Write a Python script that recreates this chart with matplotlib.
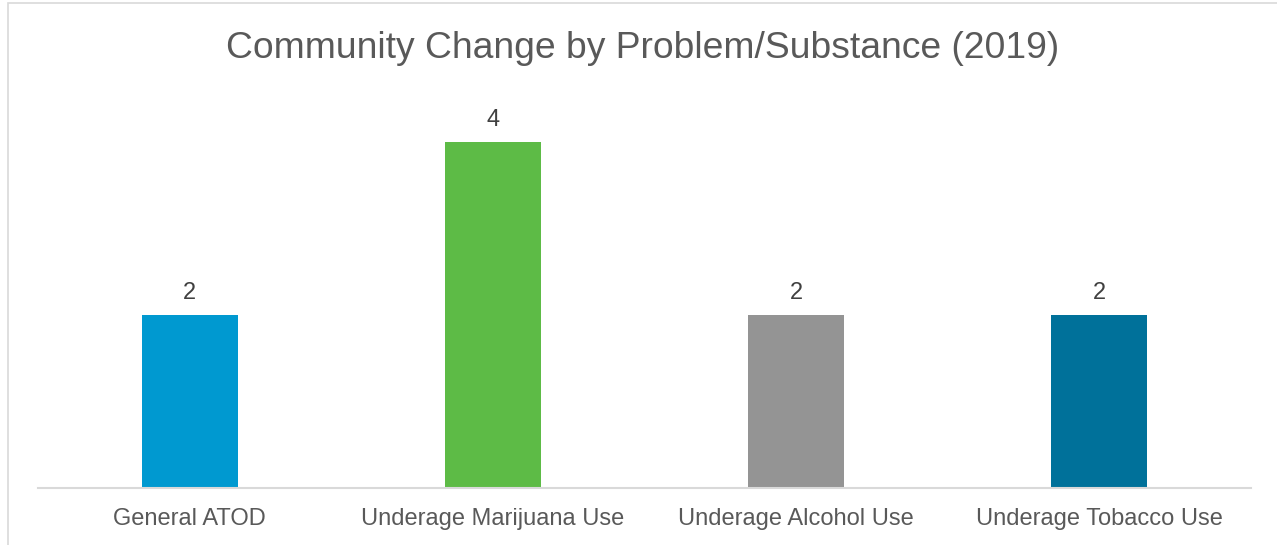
import matplotlib.pyplot as plt
from matplotlib.patches import Rectangle

categories = ["General ATOD", "Underage Marijuana Use", "Underage Alcohol Use", "Underage Tobacco Use"]
counts = [2, 4, 2, 2]
colors = ["#0099D0", "#5DBB46", "#949494", "#00719A"]

W, H = 1277, 545
plt.rcParams['font.family'] = ['Liberation Sans', 'DejaVu Sans']
text_color = "#595959"

fig = plt.figure(figsize=(W / 100, H / 100), dpi=100)

# chart frame
fig.patches.append(Rectangle((8 / W, -0.2), 1.2, 1.2 - 3 / H, transform=fig.transFigure,
                             fill=False, edgecolor="#D9D9D9", linewidth=1.2))

ax = fig.add_axes([38 / W, (H - 488) / H, 1213 / W, 389 / H])
x = range(len(categories))
bars = ax.bar(x, counts, width=0.317, color=colors)
ax.set_xlim(-0.5, len(categories) - 0.5)
ax.set_ylim(0, 4.5)

for b, v in zip(bars, counts):
    ax.annotate(str(v), (b.get_x() + b.get_width() / 2, v), xytext=(0, 8),
                textcoords="offset points", ha="center", va="bottom",
                fontsize=17, color="#404040")

ax.set_xticks(list(x))
ax.set_xticklabels(categories, fontsize=17, color=text_color)
ax.tick_params(axis="x", length=0, pad=14.5)
ax.set_yticks([])
for s in ["top", "right", "left"]:
    ax.spines[s].set_visible(False)
ax.spines["bottom"].set_color("#D9D9D9")
ax.spines["bottom"].set_linewidth(1.5)

fig.text(643 / W, 1 - 48 / H, "Community Change by Problem/Substance (2019)",
         ha="center", va="center", fontsize=26.8, color=text_color)

fig.savefig("out.png", dpi=100)
